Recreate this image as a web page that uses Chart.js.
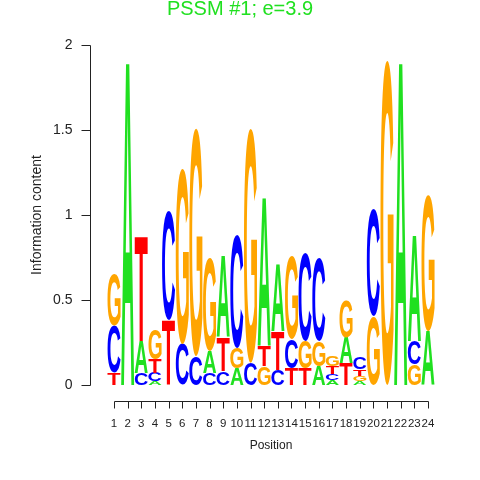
<!DOCTYPE html>
<html>
<head>
<meta charset="utf-8">
<script src="https://cdn.jsdelivr.net/npm/chart.js@4.4.1/dist/chart.umd.min.js"></script>
<style>
  html, body { margin: 0; padding: 0; background: #fff; }
  canvas { display: block; }
</style>
</head>
<body>
<canvas id="logo-chart" width="480" height="480"></canvas>
<script>
const positions = [1, 2, 3, 4, 5, 6, 7, 8, 9, 10, 11, 12, 13, 14, 15, 16, 17, 18, 19, 20, 21, 22, 23, 24];
const bases = ["A", "C", "G", "T"];
// information content per base and position (bits)
const infoA = [0, 1.92, 0.19, 0.02, 0, 0, 0, 0.13, 0.48, 0.1, 0, 0.88, 0.4, 0, 0, 0.11, 0.03, 0.15, 0.025, 0, 0, 1.92, 0.63, 0.32];
const infoC = [0.28, 0, 0.07, 0.05, 0.64, 0.24, 0.17, 0.07, 0.08, 0.67, 0.13, 0, 0.09, 0.17, 0.52, 0.49, 0.035, 0, 0.07, 0.63, 0, 0, 0.14, 0];
const infoG = [0.3, 0, 0, 0.18, 0, 1.03, 1.34, 0.55, 0, 0.12, 1.38, 0.11, 0, 0.49, 0.16, 0.15, 0.06, 0.22, 0.03, 0.4, 1.91, 0, 0.12, 0.8];
const infoT = [0.07, 0, 0.62, 0.08, 0.38, 0, 0, 0, 0.2, 0, 0, 0.12, 0.23, 0.1, 0.1, 0, 0.045, 0.13, 0.04, 0, 0, 0, 0, 0];
const yTicks = [0, 0.5, 1, 1.5, 2];
const yTickLabels = ["0", "0.5", "1", "1.5", "2"];

const baseColors = { A: "#20e020", C: "#0000ff", G: "#ffa500", T: "#ff0000" };
const axisColor = "#222";

// one floating-bar dataset per rank, smallest letter at the bottom
const heights = { A: infoA, C: infoC, G: infoG, T: infoT };
const rankData = [[], [], [], []];
positions.forEach((pos, i) => {
  const col = bases
    .map((b) => ({ letter: b, h: heights[b][i] }))
    .sort((a, b) => a.h - b.h);
  let bottom = 0;
  col.forEach((item, r) => {
    rankData[r].push({ x: pos, y: [bottom, bottom + item.h], letter: item.letter });
    bottom += item.h;
  });
});

const letterPlugin = {
  id: "letters",
  afterDatasetsDraw(chart) {
    const { ctx } = chart;
    ctx.save();
    ctx.font = 'bold 100px "Liberation Sans", Arial, sans-serif';
    ctx.textAlign = "left";
    ctx.textBaseline = "alphabetic";
    chart.data.datasets.forEach((ds, d) => {
      chart.getDatasetMeta(d).data.forEach((bar, j) => {
        const raw = ds.data[j];
        const { x, y, base, width } = bar.getProps(["x", "y", "base", "width"], true);
        const h = base - y;
        if (h < 0.5) return;
        const m = ctx.measureText(raw.letter);
        const gw = m.actualBoundingBoxLeft + m.actualBoundingBoxRight;
        const gh = m.actualBoundingBoxAscent + m.actualBoundingBoxDescent;
        const w = width * 0.96;
        ctx.save();
        ctx.translate(x - w / 2, y);
        ctx.scale(w / gw, h / gh);
        ctx.fillStyle = baseColors[raw.letter];
        ctx.fillText(raw.letter, m.actualBoundingBoxLeft, m.actualBoundingBoxAscent);
        ctx.restore();
      });
    });
    ctx.restore();
  },
};

// R style axes: detached x axis from first to last position
const rAxesPlugin = {
  id: "rAxes",
  afterDraw(chart) {
    const { ctx, chartArea } = chart;
    const { x, y } = chart.scales;
    ctx.save();
    ctx.strokeStyle = axisColor;
    ctx.fillStyle = axisColor;
    ctx.lineWidth = 1;

    const ax = chartArea.left + 0.5;
    ctx.beginPath();
    ctx.moveTo(ax, Math.round(y.getPixelForValue(yTicks[0])) + 0.5);
    ctx.lineTo(ax, Math.round(y.getPixelForValue(yTicks[yTicks.length - 1])) + 0.5);
    yTicks.forEach((v) => {
      const py = Math.round(y.getPixelForValue(v)) + 0.5;
      ctx.moveTo(ax - 9, py);
      ctx.lineTo(ax, py);
    });
    ctx.stroke();
    ctx.font = '14px "Liberation Sans", Arial, sans-serif';
    ctx.textAlign = "right";
    ctx.textBaseline = "middle";
    yTicks.forEach((v, i) => {
      ctx.fillText(yTickLabels[i], ax - 18, y.getPixelForValue(v));
    });

    const ay = chartArea.bottom + 16.5;
    ctx.beginPath();
    ctx.moveTo(Math.round(x.getPixelForValue(positions[0])) + 0.5, ay);
    ctx.lineTo(Math.round(x.getPixelForValue(positions[positions.length - 1])) + 0.5, ay);
    positions.forEach((p) => {
      const px = Math.round(x.getPixelForValue(p)) + 0.5;
      ctx.moveTo(px, ay);
      ctx.lineTo(px, ay + 7);
    });
    ctx.stroke();
    ctx.font = '11.5px "Liberation Sans", Arial, sans-serif';
    ctx.textAlign = "center";
    positions.forEach((p) => {
      ctx.fillText(String(p), x.getPixelForValue(p), ay + 22);
    });

    const midX = (x.getPixelForValue(positions[0]) + x.getPixelForValue(positions[positions.length - 1])) / 2;
    ctx.font = '12px "Liberation Sans", Arial, sans-serif';
    ctx.fillText("Position", midX, ay + 44);

    ctx.save();
    ctx.translate(37.5, (chartArea.top + chartArea.bottom) / 2);
    ctx.rotate(-Math.PI / 2);
    ctx.font = '14px "Liberation Sans", Arial, sans-serif';
    ctx.fillText("Information content", 0, 0);
    ctx.restore();

    ctx.font = '20px "Liberation Sans", Arial, sans-serif';
    ctx.fillStyle = baseColors.A;
    ctx.fillText("PSSM #1; e=3.9", 240, 9);
    ctx.restore();
  },
};

new Chart(document.getElementById("logo-chart"), {
  type: "bar",
  data: {
    datasets: rankData.map((rows, r) => ({
      label: "rank " + (r + 1),
      data: rows,
      backgroundColor: "rgba(0,0,0,0)",
      borderWidth: 0,
      grouped: false,
      barPercentage: 1,
      categoryPercentage: 1,
    })),
  },
  options: {
    responsive: false,
    animation: false,
    layout: { padding: { left: 90, right: 28, top: 45, bottom: 95 } },
    scales: {
      x: { type: "linear", display: false, min: -0.758, max: 25.758, offset: false },
      y: { display: false, min: 0, max: 2 },
    },
    plugins: {
      legend: { display: false },
      tooltip: { enabled: false },
    },
  },
  plugins: [letterPlugin, rAxesPlugin],
});
</script>
</body>
</html>
